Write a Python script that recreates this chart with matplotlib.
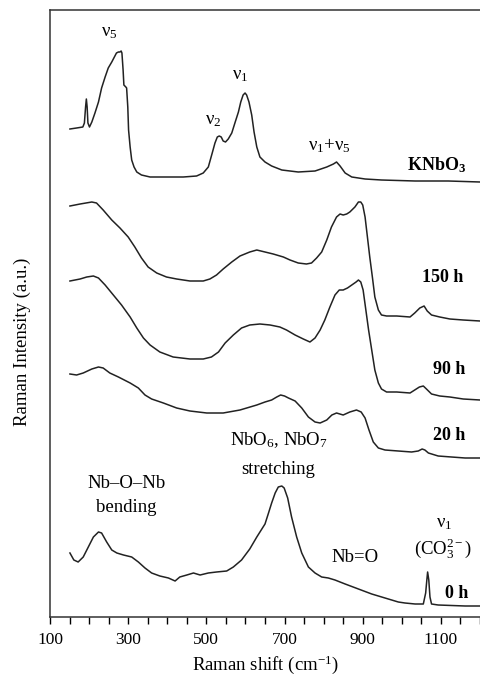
import matplotlib
matplotlib.use("Agg")
import matplotlib.pyplot as plt
from matplotlib.ticker import MultipleLocator, FixedLocator

plt.rcParams['font.family'] = ['Liberation Serif', 'DejaVu Serif']
plt.rcParams['mathtext.fontset'] = 'custom'
plt.rcParams['mathtext.rm'] = 'Liberation Serif'
plt.rcParams['mathtext.it'] = 'Liberation Serif:italic'
plt.rcParams['mathtext.bf'] = 'Liberation Serif:bold'

# ---- data (wavenumber cm^-1, offset intensity a.u.) ----
knbo3_x = [151, 168, 184, 188, 191, 193, 195, 197, 201, 207, 215, 224, 232, 241, 249, 258, 266, 270,
           275, 279, 282, 284, 287, 289, 294, 296, 299, 301, 305, 309, 315, 322, 334, 356, 398, 441,
           475, 492, 505, 515, 522, 528, 533, 538, 543, 549, 556, 565, 573, 582, 588, 594, 599, 603,
           609, 616, 622, 629, 637, 650, 667, 693, 735, 778, 808, 825, 833, 842, 855, 872, 906, 948,
           1034, 1119, 1200]
knbo3_y = [488, 489, 490, 494, 510, 518, 510, 494, 490, 495, 504, 515, 529, 540, 549, 555, 561, 564,
           565, 565, 566, 564, 547, 532, 530, 529, 510, 487, 470, 457, 450, 445, 442, 440, 440, 440,
           441, 444, 450, 464, 474, 480, 481, 480, 476, 475, 478, 484, 494, 505, 515, 522, 524, 522,
           515, 502, 485, 470, 460, 455, 451, 447, 445, 446, 450, 453, 455, 451, 444, 440, 438, 437,
           436, 436, 435]

h150_x = [151, 177, 207, 219, 236, 258, 279, 300, 317, 334, 351, 373, 398, 424, 458, 492, 509, 526,
          543, 565, 586, 611, 629, 650, 671, 697, 714, 735, 756, 769, 782, 795, 808, 820, 833, 842,
          850, 859, 867, 880, 889, 895, 900, 906, 912, 918, 925, 931, 940, 948, 961, 987, 1021, 1033,
          1046, 1057, 1065, 1076, 1097, 1123, 1157, 1200]
h150_y = [411, 413, 415, 414, 407, 397, 389, 380, 370, 359, 350, 344, 340, 338, 336, 336, 338, 342,
          348, 355, 361, 365, 367, 365, 363, 360, 357, 354, 353, 354, 359, 365, 377, 390, 400, 403,
          402, 403, 405, 410, 415, 415, 412, 400, 380, 360, 339, 320, 307, 302, 301, 301, 300, 304,
          309, 311, 306, 302, 300, 298, 297, 296]

h90_x = [151, 177, 194, 211, 224, 241, 262, 283, 305, 322, 339, 356, 381, 415, 458, 492, 513, 531,
         548, 569, 590, 611, 637, 663, 688, 705, 727, 748, 765, 778, 791, 803, 816, 829, 840, 850,
         861, 872, 883, 889, 895, 901, 908, 915, 923, 931, 940, 948, 961, 987, 1021, 1033, 1045,
         1055, 1063, 1076, 1097, 1123, 1157, 1200]
h90_y = [336, 338, 340, 341, 339, 332, 322, 312, 300, 289, 279, 272, 265, 260, 258, 258, 260, 265,
         274, 282, 289, 292, 293, 292, 290, 287, 282, 278, 275, 279, 287, 297, 310, 322, 327, 327,
         329, 332, 335, 337, 335, 327, 307, 287, 267, 247, 234, 228, 225, 225, 224, 227, 230,
         231, 228, 223, 221, 220, 218, 217]

h20_x = [151, 168, 185, 207, 224, 236, 253, 275, 305, 326, 343, 360, 390, 424, 458, 501, 543, 586,
         629, 650, 667, 680, 690, 700, 710, 727, 744, 761, 778, 791, 808, 821, 833, 850, 867, 884,
         896, 906, 916, 927, 940, 957, 991, 1025, 1042, 1052, 1059, 1068, 1093, 1127, 1162, 1200]
h20_y = [243, 242, 244, 248, 250, 249, 244, 240, 234, 229, 222, 218, 214, 209, 206, 204, 204, 207,
         212, 215, 217, 220, 222, 221, 219, 216, 209, 200, 195, 194, 197, 202, 204, 202, 205, 207,
         205, 199, 187, 175, 169, 167, 166, 165, 166, 168, 167, 164, 161, 160, 159, 159]

h0_x = [151, 161, 172, 185, 198, 211, 224, 232, 245, 258, 271, 288, 309, 326, 343, 360, 381, 403,
        420, 432, 450, 467, 484, 505, 526, 552, 569, 590, 611, 629, 650, 659, 667, 676, 684, 693,
        699, 708, 718, 731, 744, 761, 778, 795, 812, 829, 855, 889, 923, 957, 991, 1008, 1034,
        1055, 1061, 1064, 1066, 1069, 1072, 1076, 1093, 1162, 1200]
h0_y = [64, 57, 55, 60, 70, 80, 85, 84, 75, 67, 64, 62, 60, 55, 49, 44, 41, 39,
        36, 40, 42, 44, 42, 44, 45, 46, 50, 57, 68, 80, 93, 104, 114, 124, 130, 131,
        129, 119, 100, 80, 64, 50, 44, 40, 39, 37, 33, 28, 23, 19, 15, 14, 13,
        13, 24, 37, 45, 37, 20, 13, 12, 11, 11]

curves = [(knbo3_x, knbo3_y), (h150_x, h150_y), (h90_x, h90_y), (h20_x, h20_y), (h0_x, h0_y)]
xticks_major = [100, 300, 500, 700, 900, 1100]

fig = plt.figure(figsize=(4.8, 6.84), dpi=100)
ax = fig.add_axes([50/480, 67/684, 430/480, 607/684])
for xs, ys in curves:
    ax.plot(xs, ys, color='#222222', lw=1.1, solid_joinstyle='round')

ax.set_xlim(100, 1200)
ax.set_ylim(0, 607)
ax.xaxis.set_major_locator(FixedLocator(xticks_major))
ax.xaxis.set_minor_locator(MultipleLocator(50))
ax.tick_params(axis='x', which='both', direction='out', length=5, width=1, labelsize=12.5, pad=6)
ax.set_yticks([])
ax.spines['right'].set_visible(False)
for s in ['left', 'top', 'bottom']:
    ax.spines[s].set_linewidth(1.1)
    ax.spines[s].set_color('#333333')

ax.set_xlabel('Raman shift (cm$^{\\mathregular{-1}}$)', fontsize=13.5, labelpad=4)
fig.text(22/480, 1 - 342/684, 'Raman Intensity (a.u.)', rotation=90, fontsize=13.5,
         ha='center', va='center')

def yp(py):
    return 617 - py

fs = 13.5
ax.text(251, yp(33), 'ν$_\\mathregular{5}$', fontsize=fs, ha='center', va='center')
ax.text(517, yp(121), 'ν$_\\mathregular{2}$', fontsize=fs, ha='center', va='center')
ax.text(586, yp(76), 'ν$_\\mathregular{1}$', fontsize=fs, ha='center', va='center')
ax.text(816, yp(146), 'ν$_\\mathregular{1}$+ν$_\\mathregular{5}$', fontsize=fs, ha='center', va='center')

bs = 13
ax.text(1165, yp(165), 'KNbO$_\\mathbf{3}$', fontsize=bs, fontweight='bold', ha='right', va='center')
ax.text(1158, yp(278), '150 h', fontsize=bs, fontweight='bold', ha='right', va='center')
ax.text(1163, yp(370), '90 h', fontsize=bs, fontweight='bold', ha='right', va='center')
ax.text(1163, yp(436), '20 h', fontsize=bs, fontweight='bold', ha='right', va='center')
ax.text(1170, yp(593), '0 h', fontsize=bs, fontweight='bold', ha='right', va='center')

ax.text(685, yp(440), 'NbO$_\\mathregular{6}$, NbO$_\\mathregular{7}$', fontsize=fs, ha='center', va='center')
ax.text(685, yp(469), 'stretching', fontsize=fs, ha='center', va='center')
ax.text(295, yp(483), 'Nb–O–Nb', fontsize=fs, ha='center', va='center')
ax.text(295, yp(508), 'bending', fontsize=fs, ha='center', va='center')
ax.text(880, yp(557), 'Nb=O', fontsize=fs, ha='center', va='center')
ax.text(1108, yp(523), 'ν$_\\mathregular{1}$', fontsize=fs, ha='center', va='center')
ax.text(1105, yp(549), '(CO$_\\mathregular{3}^{\\mathregular{2−}}$)', fontsize=fs, ha='center', va='center')

fig.savefig('out.png', dpi=100)
